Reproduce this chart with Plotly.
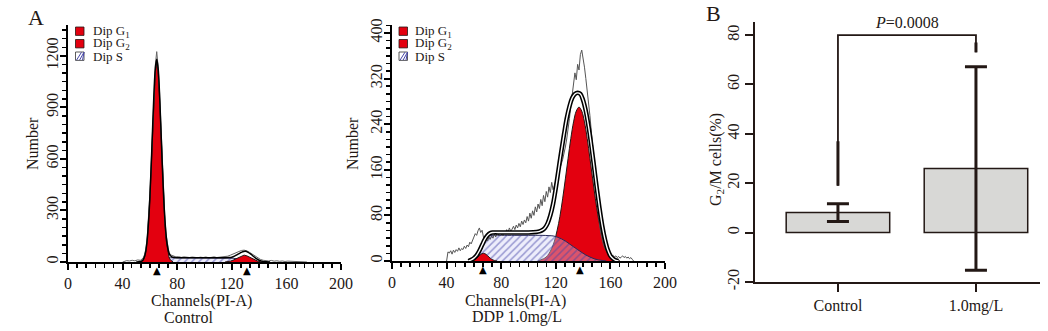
import plotly.graph_objects as go

W, H = 1048, 331
SERIF = "Liberation Serif, 'Times New Roman', serif"
RED = "#e3000f"
INK = "#231815"
HATCH = "#4646a8"

# ---------------- data ----------------
channel_ticks = [0, 40, 80, 120, 160, 200]
ctrl_count_ticks = [0, 300, 600, 900, 1200]
ddp_count_ticks = [0, 80, 160, 240, 320, 400]

# Control histogram components (channel, count)
ctrl_g1_ch = list(range(53, 78))
ctrl_g1 = [0, 5, 12, 28, 61, 122, 222, 368, 556, 767, 965, 1108, 1160,
           1108, 965, 767, 556, 368, 222, 122, 61, 28, 12, 5, 0]
ctrl_s_ch = [60, 62, 64, 66, 68, 70, 75, 80, 90, 100, 110, 118, 121, 124, 127, 130, 133, 136, 139]
ctrl_s = [0, 5, 12, 18, 22, 24, 25, 25, 25, 25, 25, 25, 22, 18, 13, 8, 4, 1, 0]
ctrl_g2_ch = list(range(115, 145, 2))
ctrl_g2 = [0, 2, 5, 11, 19, 28, 36, 40, 36, 28, 19, 11, 5, 2, 0]
ctrl_fit_ch = [50, 52, 54] + list(range(55, 77)) + [78, 80, 90, 100, 110, 115] + list(range(118, 143, 2)) + [145, 148]
ctrl_fit = [0, 1, 5,
            12, 30, 64, 128, 232, 380, 570, 785, 988, 1128, 1180, 1130, 990, 790, 580, 392, 246, 146, 86, 52, 37, 30,
            26, 25, 25, 25, 25, 25,
            26, 28, 34, 43, 52, 60, 62, 56, 45, 32, 19, 10, 5,
            1, 0]
ctrl_raw_ch = [40, 41, 43, 45, 47, 49, 51, 53] + list(range(54, 76)) + list(range(77, 176, 2))
ctrl_raw = [0, 4, 8, 6, 10, 7, 12, 10,
            16, 22, 42, 75, 140, 245, 400, 590, 800, 1000, 1150, 1225, 1140, 1000, 800, 590, 400, 250, 150, 88, 55, 42,
            34, 30, 31, 27, 30, 28, 26, 29, 27, 25,
            28, 26, 29, 25, 27, 30, 26, 28, 27, 31,
            34, 40, 47, 55, 62, 67, 69, 65, 56, 45,
            33, 23, 15, 10, 8, 6, 9, 5, 7, 4,
            6, 3, 5, 4, 3, 5, 2, 4, 2, 0]
ctrl_means = [65, 131]

# DDP 1.0 mg/L histogram components
ddp_g1_ch = [58, 59, 61, 63, 65, 67, 69, 71, 73, 75, 77]
ddp_g1 = [0, 1, 3, 7, 11.5, 13.5, 11.5, 7, 3, 1, 0]
ddp_s_ch = [60, 62, 63, 64, 65, 66, 67, 68, 69, 70, 72, 75, 80, 90, 100, 110, 115, 118, 121, 124,
            127, 130, 133, 136, 139, 142, 145, 148, 151, 154, 157]
ddp_s = [0, 3, 6, 11, 17, 23, 29, 34, 39, 42, 44.5, 45, 45, 45, 45, 45, 44.5, 44, 42, 39,
         35, 30, 25, 20, 15, 10.5, 7, 4, 2, 1, 0]
ddp_g2_ch = list(range(107, 168, 2))
ddp_g2 = [0, 2, 4, 7, 13, 22, 35, 54, 78, 109, 144, 180, 215, 244, 263, 270,
          263, 244, 215, 180, 144, 109, 78, 54, 35, 22, 13, 7, 4, 2, 0]
ddp_fit_ch = list(range(56, 75, 2)) + [80, 90, 100] + list(range(106, 167, 2))
ddp_fit = [0, 2, 5, 10, 18, 28, 38, 45, 49, 50,
           50, 50, 50,
           51, 52, 54, 58, 66, 80, 100, 128, 160, 192, 222, 250, 271, 286, 293, 295,
           293, 282, 263, 236, 203, 166, 128, 93, 62, 38, 20, 9, 4, 1, 0]
ddp_raw_ch = list(range(40, 178))
ddp_raw = [0, 16, 14, 18, 12, 19, 15, 20, 17, 23,
           18, 22, 20, 26, 22, 28, 25, 33, 30, 38,
           42, 48, 45, 53, 58, 50, 54, 42, 36, 40,
           35, 42, 38, 44, 40, 47, 42, 50, 45, 52,
           47, 44, 51, 48, 55, 50, 58, 52, 56, 61,
           55, 63, 58, 66, 60, 70, 64, 72, 67, 78,
           70, 84, 75, 88, 80, 95, 86, 100, 92, 108,
           97, 115, 104, 122, 112, 130, 120, 138, 125, 132,
           142, 150, 156, 162, 170, 178, 188, 200, 214, 230,
           250, 272, 295, 312, 330, 318, 345, 335, 362, 370,
           358, 340, 320, 300, 283, 255, 228, 200, 170, 140,
           112, 88, 66, 48, 36, 27, 22, 17, 14, 11,
           9, 8, 10, 7, 9, 6, 8, 5, 7, 9,
           6, 8, 5, 7, 4, 6, 3, 0]
ddp_means = [67, 138]

legend_labels = ["Dip G<sub>1</sub>", "Dip G<sub>2</sub>", "Dip S"]

# Panel B
groups = ["Control", "1.0mg/L"]
g2m_mean = [8.1, 26.0]
g2m_sd = [3.6, 41.2]
bar_ticks = [-20, 0, 20, 40, 60, 80]
p_label = "<i>P</i>=0.0008"
bracket_top = 80
bracket_left_end = 19
bracket_right_end = 73


def px(x, y):
    return x / W, 1 - y / H


fig = go.Figure()

hatch = dict(shape="/", fgcolor=HATCH, bgcolor="rgba(210,210,245,0.4)", size=5, solidity=0.3)


def line_trace(x, y, xa, ya, **kw):
    return go.Scatter(x=x, y=y, mode="lines", xaxis=xa, yaxis=ya, hoverinfo="skip", **kw)


# ---- Panel A left: Control ----
fig.add_trace(line_trace(ctrl_s_ch, ctrl_s, "x", "y", fill="tozeroy", fillpattern=hatch,
                         line=dict(color="#2a2a5a", width=1)))
for cx, cy in [(ctrl_g1_ch, ctrl_g1), (ctrl_g2_ch, ctrl_g2)]:
    fig.add_trace(line_trace(cx, cy, "x", "y", fill="tozeroy", fillcolor=RED,
                             line=dict(color=INK, width=1)))
fig.add_trace(line_trace(ctrl_raw_ch, ctrl_raw, "x", "y", line=dict(color="#666666", width=1)))
fig.add_trace(line_trace(ctrl_fit_ch, ctrl_fit, "x", "y", line=dict(color="black", width=1.5, shape="spline")))

# ---- Panel A right: DDP ----
fig.add_trace(line_trace(ddp_g2_ch, ddp_g2, "x2", "y2", fill="tozeroy", fillcolor=RED,
                         line=dict(color=INK, width=1, shape="spline")))
fig.add_trace(line_trace(ddp_s_ch, ddp_s, "x2", "y2", fill="tozeroy", fillpattern=hatch,
                         line=dict(color="#2a2a5a", width=1, shape="spline")))
fig.add_trace(line_trace(ddp_g1_ch, ddp_g1, "x2", "y2", fill="tozeroy", fillcolor=RED,
                         line=dict(color=INK, width=1, shape="spline")))
fig.add_trace(line_trace(ddp_raw_ch, ddp_raw, "x2", "y2", line=dict(color="#555555", width=1)))
fig.add_trace(line_trace(ddp_fit_ch, ddp_fit, "x2", "y2", line=dict(color="black", width=4.5, shape="spline")))
fig.add_trace(line_trace(ddp_fit_ch, ddp_fit, "x2", "y2", line=dict(color="white", width=1.4, shape="spline")))

# ---- Panel B ----
fig.add_trace(go.Bar(x=groups, y=g2m_mean, width=0.75,
                     marker=dict(color="#d8d8d6", line=dict(color=INK, width=1.5)),
                     error_y=dict(type="data", array=g2m_sd, visible=True, color=INK, thickness=3, width=11),
                     xaxis="x3", yaxis="y3", hoverinfo="skip"))

tickfont = dict(family=SERIF, size=16, color=INK)


def hist_x(domain):
    return dict(domain=domain, range=[0, 200], tickvals=channel_ticks, ticks="outside", ticklen=6,
                tickwidth=2, tickcolor="black", showline=True, linecolor="black", linewidth=2,
                showgrid=False, zeroline=False, tickfont=tickfont, automargin=False,
                minor=dict(dtick=200 / 30, tick0=0, ticks="outside", ticklen=4, tickwidth=1.5,
                           tickcolor="black", showgrid=False))


def hist_y(domain, rng, tv, minor_dtick, anchor):
    return dict(domain=domain, range=rng, tickvals=tv, ticktext=[str(v) for v in tv], tickangle=-90,
                ticks="outside", ticklen=6, automargin=False, ticklabelstandoff=-4,
                tickwidth=2, tickcolor="black", showline=True, linecolor="black", linewidth=2,
                showgrid=False, zeroline=False, tickfont=tickfont, anchor=anchor,
                minor=dict(dtick=minor_dtick, tick0=0, ticks="outside", ticklen=4, tickwidth=1.5,
                           tickcolor="black", showgrid=False))


x1 = hist_x([68 / W, 341 / W]); x1["anchor"] = "y"
x2 = hist_x([392 / W, 665 / W]); x2["anchor"] = "y2"
y1 = hist_y([(H - 262) / H, (H - 25) / H], [0, 1380], ctrl_count_ticks, 50, "x")
y2 = hist_y([(H - 261) / H, (H - 25) / H], [0, 414], ddp_count_ticks, 80 / 6, "x2")

fig.update_layout(
    width=W, height=H, autosize=False,
    margin=dict(l=0, r=0, t=0, b=0, pad=0),
    paper_bgcolor="white", plot_bgcolor="white",
    showlegend=False,
    font=dict(family=SERIF, size=16, color=INK),
    xaxis=x1, yaxis=y1, xaxis2=x2, yaxis2=y2,
    xaxis3=dict(domain=[755 / W, 1040 / W], anchor="y3", type="category", range=[-0.601, 1.464],
                ticks="outside", ticklen=8, tickwidth=2, tickcolor=INK, showline=True, linecolor=INK,
                linewidth=2, showgrid=False, zeroline=False, tickfont=tickfont, automargin=False),
    yaxis3=dict(domain=[(H - 282) / H, (H - 22) / H], anchor="x3", range=[-20, 85.3], tickvals=bar_ticks,
                ticktext=[str(v) for v in bar_ticks], automargin=False,
                tickangle=-90, ticks="outside", ticklen=8, tickwidth=2, tickcolor=INK, showline=True,
                linecolor=INK, linewidth=2, showgrid=False, zeroline=False, tickfont=tickfont),
    bargap=0,
)

ann = []
shapes = []


def paper_text(text, x, y, size=16, angle=0, xanchor="center"):
    px_, py_ = px(x, y)
    ann.append(dict(text=text, x=px_, y=py_, xref="paper", yref="paper", showarrow=False,
                    xanchor=xanchor, yanchor="middle", textangle=angle,
                    font=dict(family=SERIF, size=size, color=INK)))


# panel letters
paper_text("A", 36, 18, size=22)
paper_text("B", 713, 13, size=22)
# axis titles
paper_text("Channels(PI-A)", 201, 301)
paper_text("Control", 188, 317)
paper_text("Channels(PI-A)", 515, 301)
paper_text("DDP 1.0mg/L", 517, 317)
paper_text("Number", 33, 144, angle=-90)
paper_text("Number", 353, 144, angle=-90)
paper_text("G<sub>2</sub>/M cells(%)", 716, 160, angle=-90)

# legends
for (sx, tx) in [(75.5, 90.5), (399, 412.5)]:
    for i, lab in enumerate(legend_labels):
        yc = 31.2 + 12.5 * i
        x0, y0 = px(sx, yc - 4.2)
        x1p, y1p = px(sx + 8.5, yc + 4.2)
        if i < 2:
            shapes.append(dict(type="rect", xref="paper", yref="paper", x0=x0, x1=x1p, y0=y1p, y1=y0,
                               fillcolor=RED, line=dict(color=INK, width=0.8)))
        else:
            shapes.append(dict(type="rect", xref="paper", yref="paper", x0=x0, x1=x1p, y0=y1p, y1=y0,
                               fillcolor="white", line=dict(color="#333333", width=0.8)))
            for k in range(3):
                a = px(sx + 1 + 3 * k, yc + 4)
                b = px(sx + 1 + 3 * k + 5, yc - 4)
                shapes.append(dict(type="line", xref="paper", yref="paper", x0=a[0], y0=a[1],
                                   x1=min(b[0], x1p), y1=b[1], line=dict(color=HATCH, width=1)))
        paper_text(lab, tx, yc, size=13, xanchor="left")

# mean markers (triangles under the axis)
for xr, yr, means in [("x", "y", ctrl_means), ("x2", "y2", ddp_means)]:
    for m in means:
        ann.append(dict(text="▲", x=m, y=0, xref=xr, yref=yr, showarrow=False, yanchor="top", yshift=-1,
                        font=dict(family="DejaVu Sans", size=10, color="black")))

# significance bracket
gi0, gi1 = groups.index("Control"), groups.index("1.0mg/L")
shapes.append(dict(type="path", xref="x3", yref="y3",
                   path=f"M {gi0},{bracket_left_end} L {gi0},{bracket_top} L {gi1},{bracket_top} L {gi1},{bracket_right_end}",
                   line=dict(color=INK, width=1.8)))
shapes.append(dict(type="line", xref="x3", yref="y3", x0=gi0, x1=gi0, y0=bracket_left_end, y1=37,
                   line=dict(color=INK, width=3)))
shapes.append(dict(type="line", xref="x3", yref="y3", x0=gi1, x1=gi1, y0=bracket_right_end, y1=77,
                   line=dict(color=INK, width=3)))
ann.append(dict(text=p_label, x=0.5, y=bracket_top, xref="x3", yref="y3", showarrow=False,
                yanchor="bottom", yshift=2, font=dict(family=SERIF, size=16, color=INK)))

fig.update_layout(annotations=ann, shapes=shapes)
fig.write_html("out.html", config={"displayModeBar": False, "staticPlot": True},
               post_script="document.body.style.margin='0';document.body.style.padding='0';"
                           "document.body.style.overflow='hidden';")
